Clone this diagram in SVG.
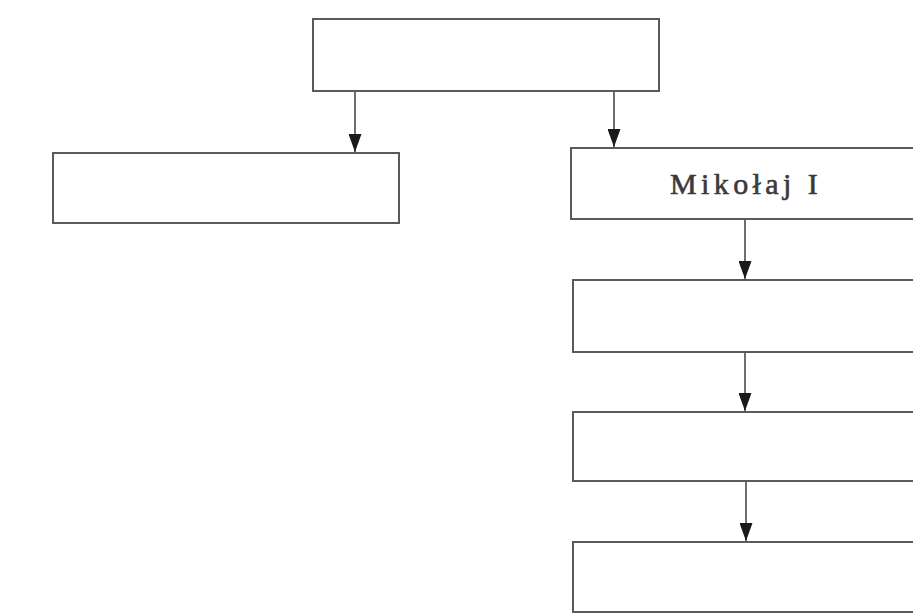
<svg xmlns="http://www.w3.org/2000/svg" width="913" height="614" viewBox="0 0 913 614">
<style>
.box{fill:#ffffff;stroke:#5a5a5a;stroke-width:2}
.conn{stroke:#4a4a4a;stroke-width:1.6;fill:none}
.lbl{font-family:"Liberation Serif","Times New Roman",serif;font-size:30px;fill:#3a3a3a;stroke:#3a3a3a;stroke-width:0.6;letter-spacing:4.4px}
</style>
<defs>
<marker id="ah" viewBox="0 0 18 13" refX="18" refY="6.5" markerWidth="18" markerHeight="13" markerUnits="userSpaceOnUse" orient="auto">
<path d="M0,0 L18,6.5 L0,13 Z" fill="#1a1a1a"/>
</marker>
</defs>
<rect width="913" height="614" fill="#ffffff"/>
<g id="connectors">
<line class="conn" x1="355" y1="92" x2="355" y2="152" marker-end="url(#ah)"/>
<line class="conn" x1="614" y1="92" x2="614" y2="147" marker-end="url(#ah)"/>
<line class="conn" x1="745" y1="219" x2="745" y2="279" marker-end="url(#ah)"/>
<line class="conn" x1="745" y1="352" x2="745" y2="411" marker-end="url(#ah)"/>
<line class="conn" x1="746" y1="481" x2="746" y2="541" marker-end="url(#ah)"/>
</g>
<g id="top"><rect class="box" x="313" y="19" width="346" height="72"/></g>
<g id="left"><rect class="box" x="53" y="153" width="346" height="70"/></g>
<g id="mikolaj"><rect class="box" x="571" y="148" width="350" height="71"/>
<text class="lbl" x="746" y="194" text-anchor="middle">Mikołaj I</text></g>
<g id="box2"><rect class="box" x="573" y="280" width="350" height="72"/></g>
<g id="box3"><rect class="box" x="573" y="412" width="350" height="69"/></g>
<g id="box4"><rect class="box" x="573" y="542" width="350" height="70"/></g>
</svg>
